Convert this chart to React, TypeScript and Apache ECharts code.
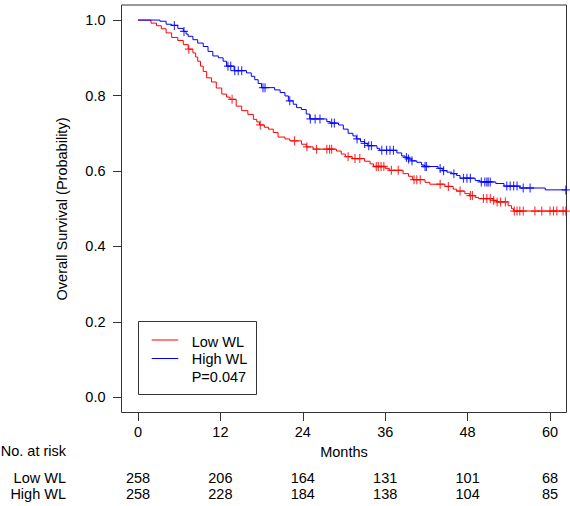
import React, { useEffect, useRef } from "react";
import * as echarts from "echarts";

// ---- Data ----
const monthTicks = [0, 12, 24, 36, 48, 60];
const survTicks = [0, 0.2, 0.4, 0.6, 0.8, 1.0];
const riskRowLabels = ["Low WL", "High WL"];
const lowRisk = [258, 206, 164, 131, 101, 68];
const highRisk = [258, 228, 184, 138, 104, 85];
const pValueText = "P=0.047";

// Kaplan–Meier step points (time in months, survival after the event)
const lowTimes = [0, 1.9, 2.7, 3.4, 4.1, 4.9, 5.8, 6.6, 7.3, 8.0, 8.4, 8.7, 9.1, 9.5, 10.0, 10.7, 11.4, 12.2, 12.9, 13.4, 14.3, 15.1, 16.0, 16.8, 17.3, 17.7, 18.4, 19.0, 19.7, 20.4, 21.4, 22.1, 23.8, 24.5, 25.5, 28.9, 29.6, 30.2, 31.2, 33.0, 33.8, 34.3, 36.0, 36.6, 38.6, 39.4, 40.0, 41.8, 42.5, 44.7, 45.9, 46.4, 47.6, 48.3, 49.1, 49.6, 51.7, 52.2, 53.9, 54.4, 54.7, 62.4];
const lowSurv = [1, 0.992, 0.985, 0.977, 0.966, 0.954, 0.946, 0.935, 0.923, 0.913, 0.902, 0.891, 0.878, 0.864, 0.847, 0.836, 0.82, 0.804, 0.796, 0.79, 0.772, 0.76, 0.75, 0.737, 0.73, 0.722, 0.716, 0.711, 0.702, 0.69, 0.685, 0.68, 0.671, 0.664, 0.658, 0.653, 0.645, 0.638, 0.633, 0.626, 0.619, 0.612, 0.607, 0.602, 0.593, 0.586, 0.577, 0.57, 0.565, 0.559, 0.552, 0.547, 0.54, 0.535, 0.53, 0.527, 0.522, 0.518, 0.508, 0.5, 0.494, 0.494];
const lowCensor = [7.4, 13.7, 17.8, 22.8, 24.6, 26.0, 27.5, 27.9, 28.2, 30.6, 31.6, 32.3, 34.7, 35.0, 35.4, 35.8, 36.9, 37.9, 40.2, 40.6, 41.1, 44.0, 45.2, 46.9, 48.4, 48.7, 50.3, 50.8, 51.3, 51.8, 52.3, 52.8, 53.5, 54.8, 55.2, 55.6, 56.1, 57.8, 58.8, 60.0, 60.5, 61.0, 61.9, 62.3];

const highTimes = [0, 3.2, 4.1, 4.9, 5.8, 6.6, 7.0, 7.3, 8.0, 8.7, 9.5, 10.2, 10.9, 11.7, 12.4, 12.9, 14.0, 15.8, 16.5, 17.0, 17.5, 18.0, 19.9, 20.7, 21.4, 21.9, 22.6, 23.1, 23.8, 24.5, 25.0, 27.5, 28.0, 29.2, 29.9, 30.6, 31.3, 31.8, 32.4, 33.0, 33.4, 34.8, 35.2, 37.7, 38.4, 38.9, 39.3, 39.8, 40.6, 41.3, 41.7, 43.7, 44.3, 45.0, 45.7, 46.4, 46.9, 49.1, 49.8, 52.1, 53.3, 55.6, 59.3, 62.4];
const highSurv = [1, 0.997, 0.989, 0.986, 0.978, 0.97, 0.963, 0.957, 0.948, 0.939, 0.93, 0.917, 0.905, 0.9, 0.891, 0.878, 0.866, 0.86, 0.851, 0.842, 0.832, 0.821, 0.815, 0.808, 0.799, 0.786, 0.777, 0.768, 0.763, 0.751, 0.738, 0.731, 0.727, 0.722, 0.711, 0.7, 0.693, 0.685, 0.678, 0.673, 0.667, 0.66, 0.655, 0.648, 0.64, 0.636, 0.632, 0.627, 0.623, 0.616, 0.612, 0.607, 0.601, 0.597, 0.593, 0.588, 0.581, 0.575, 0.571, 0.567, 0.56, 0.555, 0.55, 0.55];
const highCensor = [5.3, 6.7, 13.1, 13.5, 14.1, 14.6, 15.1, 18.2, 18.5, 22.1, 25.1, 25.8, 26.5, 28.2, 28.6, 31.9, 33.0, 33.6, 34.0, 35.5, 36.2, 36.7, 37.2, 39.1, 39.4, 39.9, 41.8, 42.0, 44.0, 44.5, 46.0, 47.4, 47.9, 48.4, 50.0, 50.5, 50.8, 51.0, 51.3, 53.7, 54.2, 54.7, 55.2, 56.1, 57.1, 62.3];

const FONT = '"Liberation Sans", Arial, Helvetica, sans-serif';
const FS = 14.5;
const RED = "#ff0000";
const BLUE = "#0000ff";
const AXIS = "#333333";

function survAt(times: number[], surv: number[], t: number): number {
  let v = surv[0];
  for (let i = 0; i < times.length; i++) {
    if (times[i] <= t) v = surv[i];
    else break;
  }
  return v;
}

const PLUS = "path://M5,0L5,10M0,5L10,5";

export default function App() {
  const ref = useRef<HTMLDivElement>(null);

  useEffect(() => {
    if (!ref.current) return;
    const chart = echarts.init(ref.current, null, { renderer: "svg" });
    const xMin = -2.4;
    const xMax = 62.4;
    const txt = { fontFamily: FONT, fontSize: FS, color: "#000" };
    const gfont = `${FS}px ${FONT}`;

    const riskAxis = (values: number[], offset: number) => ({
      type: "value",
      min: xMin,
      max: xMax,
      position: "bottom",
      offset,
      axisLine: { show: false, onZero: false },
      axisTick: { show: false },
      splitLine: { show: false },
      axisLabel: {
        ...txt,
        customValues: monthTicks,
        margin: 12,
        formatter: (v: number) => String(values[monthTicks.indexOf(v)]),
      },
    });

    const option: any = {
      animation: false,
      backgroundColor: "#ffffff",
      grid: {
        left: 121.5,
        right: 3.5,
        top: 5,
        bottom: 93.5,
        show: true,
        borderColor: AXIS,
        borderWidth: 1,
        backgroundColor: "transparent",
      },
      xAxis: [
        {
          type: "value",
          min: xMin,
          max: xMax,
          position: "bottom",
          axisLine: { show: false, onZero: false },
          splitLine: { show: false },
          axisTick: {
            show: true,
            customValues: monthTicks,
            length: 8.5,
            lineStyle: { color: AXIS, width: 1 },
          },
          axisLabel: { ...txt, customValues: monthTicks, margin: 12 },
          name: "Months",
          nameLocation: "middle",
          nameGap: 32,
          nameTextStyle: txt,
        },
        riskAxis(lowRisk, 46),
        riskAxis(highRisk, 62),
      ],
      yAxis: {
        type: "value",
        min: -0.04,
        max: 1.04,
        axisLine: { show: false, onZero: false },
        splitLine: { show: false },
        axisTick: {
          show: true,
          customValues: survTicks,
          length: 8.5,
          lineStyle: { color: AXIS, width: 1 },
        },
        axisLabel: {
          ...txt,
          customValues: survTicks,
          margin: 16,
          formatter: (v: number) => v.toFixed(1),
        },
      },
      series: [
        {
          name: "Low WL",
          type: "line",
          step: "end",
          symbol: "none",
          silent: true,
          lineStyle: { color: RED, width: 1 },
          data: lowTimes.map((t, i) => [t, lowSurv[i]]),
        },
        {
          name: "High WL",
          type: "line",
          step: "end",
          symbol: "none",
          silent: true,
          lineStyle: { color: BLUE, width: 1 },
          data: highTimes.map((t, i) => [t, highSurv[i]]),
        },
        {
          name: "Low WL censored",
          type: "scatter",
          symbol: PLUS,
          symbolSize: [8, 9],
          silent: true,
          itemStyle: { color: "transparent", borderColor: RED, borderWidth: 1.2 },
          data: lowCensor.map((t) => [t, survAt(lowTimes, lowSurv, t)]),
        },
        {
          name: "High WL censored",
          type: "scatter",
          symbol: PLUS,
          symbolSize: [8, 9],
          silent: true,
          itemStyle: { color: "transparent", borderColor: BLUE, borderWidth: 1.2 },
          data: highCensor.map((t) => [t, survAt(highTimes, highSurv, t)]),
        },
      ],
      graphic: [
        {
          type: "text",
          x: 61.7,
          y: 209,
          rotation: Math.PI / 2,
          style: {
            text: "Overall Survival (Probability)",
            font: gfont,
            fill: "#000",
            align: "center",
            verticalAlign: "middle",
          },
        },
        {
          type: "text",
          x: 66,
          y: 451,
          style: { text: "No. at risk", font: gfont, fill: "#000", align: "right", verticalAlign: "middle" },
        },
        {
          type: "text",
          x: 66,
          y: 477.5,
          style: { text: riskRowLabels[0], font: gfont, fill: "#000", align: "right", verticalAlign: "middle" },
        },
        {
          type: "text",
          x: 66,
          y: 493.5,
          style: { text: riskRowLabels[1], font: gfont, fill: "#000", align: "right", verticalAlign: "middle" },
        },
        {
          type: "rect",
          z: 100,
          shape: { x: 138.5, y: 321.5, width: 118, height: 73 },
          style: { fill: "#ffffff", stroke: AXIS, lineWidth: 1 },
        },
        {
          type: "line",
          z: 101,
          shape: { x1: 151.7, y1: 340, x2: 178.3, y2: 340 },
          style: { stroke: RED, lineWidth: 1 },
        },
        {
          type: "line",
          z: 101,
          shape: { x1: 151.7, y1: 358.5, x2: 178.3, y2: 358.5 },
          style: { stroke: BLUE, lineWidth: 1 },
        },
        {
          type: "text",
          z: 101,
          x: 191.7,
          y: 341.5,
          style: { text: "Low WL", font: gfont, fill: "#000", align: "left", verticalAlign: "middle" },
        },
        {
          type: "text",
          z: 101,
          x: 191.7,
          y: 359,
          style: { text: "High WL", font: gfont, fill: "#000", align: "left", verticalAlign: "middle" },
        },
        {
          type: "text",
          z: 101,
          x: 191.7,
          y: 376.7,
          style: { text: pValueText, font: gfont, fill: "#000", align: "left", verticalAlign: "middle" },
        },
      ],
    };

    chart.setOption(option);
    return () => chart.dispose();
  }, []);

  return (
    <div
      ref={ref}
      style={{ position: "absolute", left: 0, top: 0, width: 570, height: 506, background: "#fff" }}
    />
  );
}
